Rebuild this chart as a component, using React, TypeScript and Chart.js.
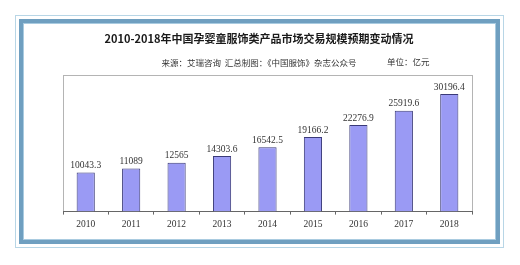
import React, { useEffect, useRef } from "react";
import { Chart, registerables } from "chart.js";

Chart.register(...registerables);

const years = ["2010", "2011", "2012", "2013", "2014", "2015", "2016", "2017", "2018"];
const marketSize = [10043.3, 11089, 12565, 14303.6, 16542.5, 19166.2, 22276.9, 25919.6, 30196.4];
const titleText = "2010-2018年中国孕婴童服饰类产品市场交易规模预期变动情况";
const sourceText = "来源：艾瑞咨询  汇总制图：《中国服饰》杂志公众号";
const unitText = "单位：亿元";

const serif = "'Liberation Serif', 'DejaVu Serif', 'Noto Sans CJK SC', serif";
const cjk = "'Noto Sans CJK SC', 'Liberation Serif', sans-serif";

const boxPlugin = {
  id: "boxPlugin",
  beforeDraw(chart: any) {
    const { ctx, chartArea } = chart;
    ctx.save();
    ctx.strokeStyle = "#b4b4b4";
    ctx.lineWidth = 1;
    ctx.strokeRect(
      Math.round(chartArea.left) + 0.5,
      Math.round(chartArea.top) + 0.5,
      Math.round(chartArea.right - chartArea.left),
      Math.round(chartArea.bottom - chartArea.top)
    );
    ctx.restore();
  },
  afterDraw(chart: any) {
    const { ctx } = chart;
    const sub = chart.subtitleBlock || null;
    ctx.save();
    ctx.font = `8.5px ${cjk}`;
    ctx.fillStyle = "#333";
    ctx.textAlign = "left";
    ctx.textBaseline = "middle";
    let y = 62;
    if (sub) y = (sub.top + sub.bottom) / 2;
    ctx.fillText(unitText, 387, y);
    ctx.restore();
  },
};

const labelPlugin = {
  id: "labelPlugin",
  afterDatasetsDraw(chart: any) {
    const { ctx } = chart;
    const meta = chart.getDatasetMeta(0);
    ctx.save();
    ctx.font = `9.5px ${serif}`;
    ctx.fillStyle = "#333";
    ctx.textAlign = "center";
    ctx.textBaseline = "bottom";
    meta.data.forEach((bar: any, i: number) => {
      ctx.fillText(String(marketSize[i]), bar.x, bar.y - 2);
    });
    ctx.restore();
  },
};

export default function App() {
  const ref = useRef<HTMLCanvasElement>(null);
  useEffect(() => {
    if (!ref.current) return;
    const chart = new Chart(ref.current, {
      type: "bar",
      data: {
        labels: years,
        datasets: [
          {
            data: marketSize,
            backgroundColor: "#9a9af4",
            borderColor: "#3a3a78",
            borderWidth: 1,
            barPercentage: 0.4,
            categoryPercentage: 1,
          },
        ],
      },
      options: {
        responsive: false,
        animation: false,
        devicePixelRatio: 1,
        layout: { padding: { left: 46, right: 48, top: 32, bottom: 31 } },
        plugins: {
          legend: { display: false },
          tooltip: { enabled: false },
          title: {
            display: true,
            text: titleText,
            color: "#1a1a1a",
            font: { size: 11, weight: "bold", family: cjk },
            padding: { top: 0, bottom: 12 },
          },
          subtitle: {
            display: true,
            text: sourceText,
            color: "#333",
            font: { size: 8.5, family: cjk },
            padding: { top: 0, bottom: 8 },
          },
        },
        scales: {
          x: {
            grid: {
              display: true,
              drawOnChartArea: false,
              drawTicks: true,
              tickLength: 3,
              color: "#666",
            },
            border: { display: true, color: "#666", width: 1 },
            ticks: { color: "#333", padding: 4, font: { size: 9.5, family: serif } },
          },
          y: {
            display: true,
            min: 0,
            max: 35000,
            grid: { display: false, drawTicks: false },
            border: { display: false },
            ticks: { display: false },
            afterFit: (axis: any) => {
              axis.width = 17;
            },
          },
        },
      },
      plugins: [boxPlugin, labelPlugin],
    });
    return () => chart.destroy();
  }, []);

  return (
    <div style={{ position: "absolute", left: 0, top: 0, width: 520, height: 265, background: "#fff" }}>
      <div
        style={{
          position: "absolute",
          left: 15,
          top: 15,
          width: 487,
          height: 231,
          border: "1px solid #b8d6e6",
        }}
      />
      <div
        style={{
          position: "absolute",
          left: 19,
          top: 19,
          width: 473,
          height: 217,
          border: "4px solid #6f9fc0",
          boxShadow: "inset 0 0 0 1px #a9cbe0",
        }}
      />
      <canvas ref={ref} width={520} height={265} style={{ position: "absolute", left: 0, top: 0 }} />
    </div>
  );
}
